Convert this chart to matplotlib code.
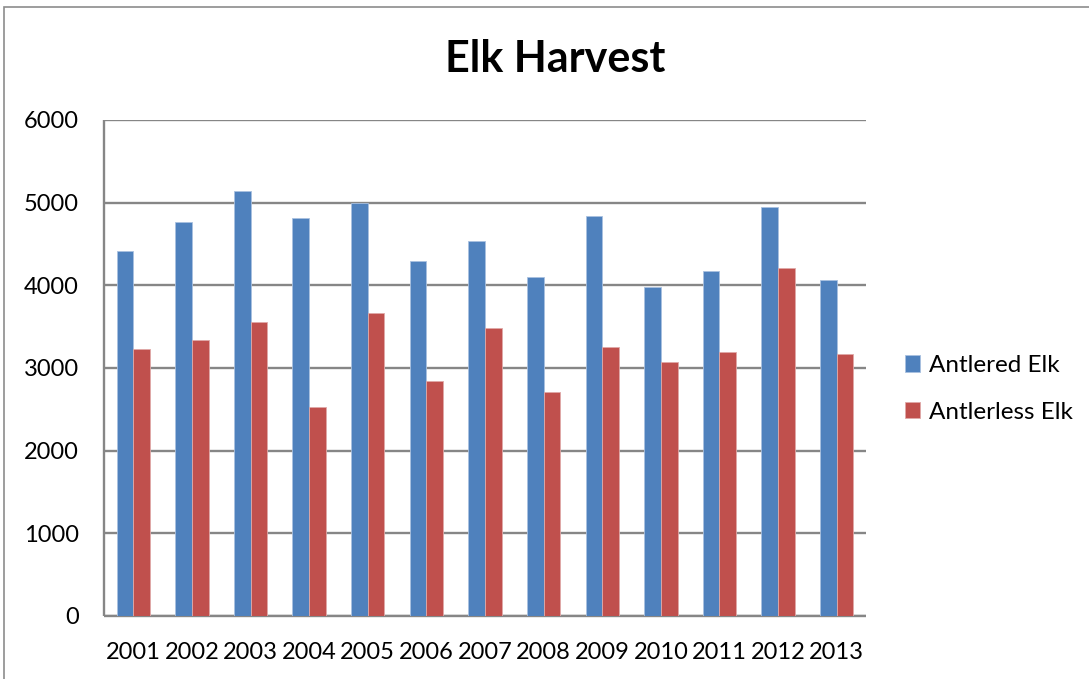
import matplotlib
matplotlib.use("Agg")
import matplotlib.pyplot as plt
import numpy as np
from matplotlib.patches import Rectangle

years = ["2001", "2002", "2003", "2004", "2005", "2006", "2007",
         "2008", "2009", "2010", "2011", "2012", "2013"]
antlered = [4415, 4766, 5141, 4819, 4998, 4291, 4533, 4097, 4835, 3980, 4170, 4944, 4069]
antlerless = [3226, 3343, 3561, 2528, 3662, 2848, 3480, 2714, 3259, 3069, 3190, 4214, 3166]

plt.rcParams['font.family'] = ['Lato', 'DejaVu Sans']

W, H = 1089, 679
fig = plt.figure(figsize=(W / 100, H / 100), dpi=100)

# outer chart border
fig.patches.append(Rectangle((4 / W, -0.1), 1.2, 1 - 7 / H + 0.1, transform=fig.transFigure,
                             fill=False, edgecolor="#8c8c8c", linewidth=1.2))

left, right, top, bottom = 104, 866, 120, 616
ax = fig.add_axes([left / W, 1 - bottom / H, (right - left) / W, (bottom - top) / H])

x = np.arange(len(years))
bw = 0.285
ax.bar(x - bw / 2, antlered, bw, color="#4f81bd", label="Antlered Elk", zorder=3,
       edgecolor="#a9c1e0", linewidth=0.6)
ax.bar(x + bw / 2, antlerless, bw, color="#c0504d", label="Antlerless Elk", zorder=3,
       edgecolor="#e0a9a8", linewidth=0.6)

ax.set_xlim(-0.5, len(years) - 0.5)
ax.set_ylim(0, 6000)
ax.set_yticks(range(0, 6001, 1000))
ax.set_xticks(x)
ax.set_xticklabels(years)
ax.yaxis.grid(True, color="#868686", linewidth=1.7, zorder=0)
ax.set_axisbelow(True)
for s in ["top", "right"]:
    ax.spines[s].set_visible(False)
for s in ["left", "bottom"]:
    ax.spines[s].set_color("#868686")
    ax.spines[s].set_linewidth(1.7)
    ax.spines[s].set_capstyle("butt")
ax.tick_params(axis="both", length=0, labelsize=17, colors="black")
ax.tick_params(axis="y", pad=18)
ax.tick_params(axis="x", pad=19)

fig.text(555 / W, 1 - 59 / H, "Elk Harvest", ha="center", va="center",
         fontsize=31, fontweight="bold")

leg = ax.legend(loc="center left", bbox_to_anchor=(1.022, 0.458), frameon=False,
                fontsize=17.5, handlelength=0.65, handleheight=0.65,
                handletextpad=0.35, labelspacing=1.05)

fig.savefig("out.png", dpi=100)
